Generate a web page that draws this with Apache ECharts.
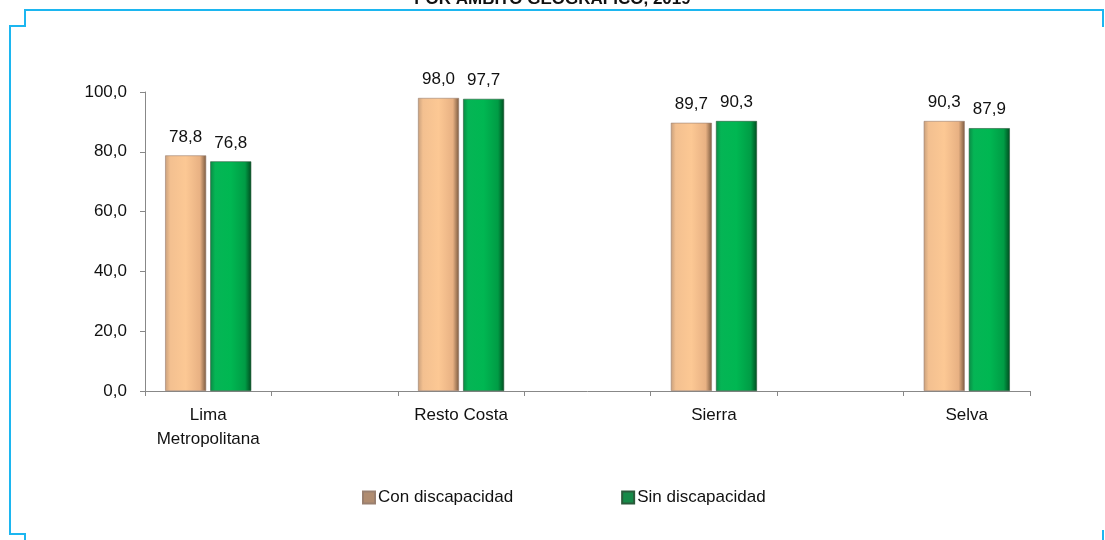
<!DOCTYPE html>
<html>
<head>
<meta charset="utf-8">
<script src="https://cdn.jsdelivr.net/npm/echarts@6/dist/echarts.min.js"></script>
<style>
html,body{margin:0;padding:0;background:#fff;}
#c{width:1105px;height:540px;}
</style>
</head>
<body>
<div id="c"></div>
<script>
var titleText = 'POR ÁMBITO GEOGRÁFICO, 2019';
var categories = ['Lima\nMetropolitana', '', 'Resto Costa', '', 'Sierra', '', 'Selva'];
var seriesNames = ['Con discapacidad', 'Sin discapacidad'];
var conDiscapacidad = [78.8, null, 98.0, null, 89.7, null, 90.3];
var sinDiscapacidad = [76.8, null, 97.7, null, 90.3, null, 87.9];
var yTicks = [0, 20, 40, 60, 80, 100];

var chart = echarts.init(document.getElementById('c'), null, {renderer: 'canvas'});
var font = 'Liberation Sans, Arial, sans-serif';
function fmt(v){ return v.toFixed(1).replace('.', ','); }

var orangeGrad = new echarts.graphic.LinearGradient(0, 0, 1, 0, [
  {offset: 0, color: '#c9a07c'},
  {offset: 0.12, color: '#f3c090'},
  {offset: 0.5, color: '#fcc894'},
  {offset: 0.85, color: '#e8b183'},
  {offset: 1, color: '#7a5a40'}
]);
var greenGrad = new echarts.graphic.LinearGradient(0, 0, 1, 0, [
  {offset: 0, color: '#0b8a45'},
  {offset: 0.12, color: '#05b555'},
  {offset: 0.5, color: '#00b752'},
  {offset: 0.85, color: '#009c45'},
  {offset: 1, color: '#004d20'}
]);

var labelCfg = {
  show: true, position: 'top', distance: 10,
  fontFamily: font, fontSize: 17, color: '#111',
  formatter: function(p){ return fmt(p.value); }
};

chart.setOption({
  animation: false,
  backgroundColor: '#fff',
  grid: {left: 145, right: 75, top: 92, bottom: 149, containLabel: false},
  legend: {
    data: [
      {name: seriesNames[0], itemStyle: {color: '#b08c70'}},
      {name: seriesNames[1], itemStyle: {color: '#168a48'}}
    ],
    left: 357, top: 484, itemWidth: 12, itemHeight: 12, itemGap: 108,
    icon: 'rect',
    textStyle: {fontFamily: font, fontSize: 17, color: '#111', padding: [0,0,0,-2]}
  },
  xAxis: {
    type: 'category', data: categories,
    axisLine: {lineStyle: {color: '#888', width: 1}},
    axisTick: {show: true, length: 5, lineStyle: {color: '#888'}, alignWithLabel: false},
    axisLabel: {interval: 0, fontFamily: font, fontSize: 17, color: '#111', lineHeight: 24, margin: 12}
  },
  yAxis: {
    type: 'value', min: 0, max: 100, interval: 20,
    axisLine: {show: true, lineStyle: {color: '#888', width: 1}},
    axisTick: {show: true, length: 5, lineStyle: {color: '#888'}},
    splitLine: {show: false},
    axisLabel: {fontFamily: font, fontSize: 17, color: '#111', margin: 18,
      formatter: function(v){ return fmt(v); }}
  },
  series: [
    {name: seriesNames[0], type: 'bar', data: conDiscapacidad, barWidth: 41, barGap: '10%',
      itemStyle: {color: orangeGrad, borderColor: '#9a8070', borderWidth: 0.6},
      label: labelCfg},
    {name: seriesNames[1], type: 'bar', data: sinDiscapacidad, barWidth: 41,
      itemStyle: {color: greenGrad, borderColor: '#2a5a3a', borderWidth: 0.6},
      label: labelCfg}
  ],
  graphic: [
    {type: 'text', left: 'center', x: 0, y: -1, style: {text: titleText, fontFamily: font, fontSize: 17, fontWeight: 'bold', fill: '#111', textAlign: 'center', textVerticalAlign: 'middle'}, position: [565, -1]},
    {type: 'polyline', shape: {points: [[1103, 27], [1103, 10], [25, 10], [25, 26], [10, 26], [10, 534], [25, 534], [25, 540]]}, style: {stroke: '#1cb6f0', lineWidth: 2, fill: null}},
    {type: 'line', shape: {x1: 1103, y1: 530, x2: 1103, y2: 540}, style: {stroke: '#1cb6f0', lineWidth: 2}}
  ]
});
</script>
</body>
</html>
